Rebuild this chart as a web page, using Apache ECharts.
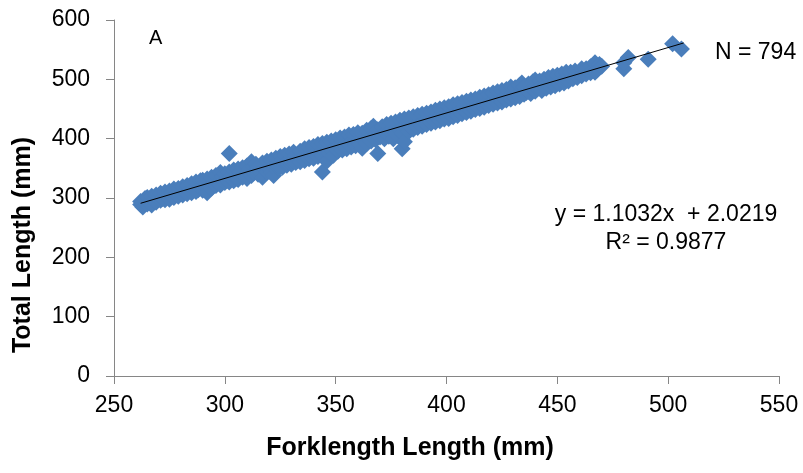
<!DOCTYPE html>
<html>
<head>
<meta charset="utf-8">
<script src="https://cdn.jsdelivr.net/npm/echarts@6/dist/echarts.min.js"></script>
<style>
html,body{margin:0;padding:0;background:#fff;}
#chart{width:803px;height:473px;}
</style>
</head>
<body>
<div id="chart"></div>
<script>
// Fork length (x, mm) of each fish
var forkLength = [
  262,262,263,264,265,265,266,267,267,268,269,269,
  270,271,271,272,273,273,274,275,275,276,277,277,278,279,279,
  280,281,281,282,283,283,284,285,285,286,287,287,288,289,289,
  290,290,291,292,292,293,294,294,295,296,296,297,298,298,299,
  300,300,301,302,302,302,303,304,304,305,306,306,307,308,308,309,
  310,310,311,312,312,313,313,314,315,315,316,317,317,318,319,319,
  320,321,321,322,322,323,324,324,325,326,326,327,328,328,329,
  330,330,331,332,332,333,334,334,335,336,336,337,338,338,339,
  340,340,341,342,342,343,344,344,344,345,346,346,347,348,348,349,
  350,350,351,352,352,353,354,354,355,356,356,357,358,358,359,
  360,360,361,362,362,363,364,364,365,366,366,367,367,368,369,369,
  370,371,371,372,373,373,374,375,375,376,377,377,378,379,379,
  380,380,381,381,382,383,383,384,385,385,386,387,387,388,389,389,
  390,391,391,392,393,393,394,395,395,396,397,397,398,399,399,
  400,401,401,402,403,403,404,405,405,406,407,407,408,409,409,
  410,411,411,412,413,413,414,415,415,416,417,417,418,419,419,
  420,421,421,422,423,423,424,425,425,426,427,427,428,429,429,
  430,431,431,432,433,433,434,435,435,436,437,437,438,439,439,
  440,440,441,442,442,443,444,444,445,446,446,447,448,448,449,
  450,450,451,452,452,453,454,454,455,456,457,458,459,
  461,461,463,463,465,465,466,467,467,468,469,470,480,480,482,491,502,506
];
// Total length (y, mm) of each fish, same order
var totalLength = [
  294,289,285,299,290,301,293,303,288,296,305,293,
  301,296,308,299,310,297,303,312,298,309,301,315,306,316,303,
  312,305,319,311,321,307,313,324,309,316,327,311,314,329,318,
  313,330,320,309,332,319,335,317,324,338,321,326,343,322,336,
  326,341,330,375,344,327,338,347,329,333,349,331,344,335,351,338,
  354,333,347,361,338,353,342,357,340,352,344,335,359,347,362,344,
  350,364,343,338,353,367,350,356,370,352,364,372,355,360,374,
  357,362,377,360,372,364,379,361,368,383,363,369,385,366,372,
  387,367,375,390,370,376,344,392,372,379,362,394,376,396,380,372,
  398,384,379,401,386,381,403,388,383,406,391,386,407,393,388,
  410,395,390,384,409,397,414,392,400,417,396,421,402,398,375,415,
  403,420,405,400,424,408,404,426,410,400,428,411,405,431,414,
  383,409,395,433,417,435,412,420,437,416,423,439,419,425,441,421,
  428,443,424,430,445,426,432,448,428,435,450,430,437,452,433,
  439,454,434,441,457,437,443,459,439,446,461,442,448,463,444,
  450,465,446,452,467,449,455,470,451,457,472,453,459,474,456,
  461,477,458,463,479,460,466,481,462,468,483,465,470,487,467,
  472,486,469,475,490,471,494,475,487,478,492,480,476,496,483,
  499,480,484,497,486,481,500,488,485,503,490,487,505,492,489,
  507,494,492,509,497,494,512,499,497,512,501,514,503,
  518,506,509,518,521,511,515,528,512,516,525,522,518,528,537,534,560,551
];
// Trend line end points (y = 1.1032x + 2.0219)
var trendX = [262, 507];
var trendY = [291.1, 561.3];
// Axis ticks
var xTicks = [250, 300, 350, 400, 450, 500, 550];
var yTicks = [0, 100, 200, 300, 400, 500, 600];

var pts = forkLength.map(function(x, i){ return [x, totalLength[i]]; });
var trend = trendX.map(function(x, i){ return [x, trendY[i]]; });

var chart = echarts.init(document.getElementById('chart'), null, {renderer:'canvas'});
var FONT = 'Liberation Sans, Arial, sans-serif';
var axisGray = '#868686';
chart.setOption({
  animation: false,
  backgroundColor: '#ffffff',
  grid: {left: 114, right: 24, top: 20, bottom: 97, containLabel: false},
  xAxis: {
    type: 'value', min: xTicks[0], max: xTicks[xTicks.length-1], interval: 50,
    name: 'Forklength Length (mm)', nameLocation: 'middle', nameGap: 60,
    nameTextStyle: {fontFamily: FONT, fontWeight: 'bold', fontSize: 25, color: '#000', padding: [0, 73, 0, 0]},
    axisLine: {show: true, lineStyle: {color: axisGray, width: 1}},
    axisTick: {show: true, inside: false, length: 8, lineStyle: {color: axisGray}},
    axisLabel: {fontFamily: FONT, fontSize: 23, color: '#000', margin: 18},
    splitLine: {show: false}
  },
  yAxis: {
    type: 'value', min: yTicks[0], max: yTicks[yTicks.length-1], interval: 100,
    name: 'Total Length (mm)', nameLocation: 'middle', nameGap: 78,
    nameTextStyle: {fontFamily: FONT, fontWeight: 'bold', fontSize: 25, color: '#000', padding: [0, 94, 0, 0]},
    axisLine: {show: true, lineStyle: {color: axisGray, width: 1}},
    axisTick: {show: true, inside: false, length: 8, lineStyle: {color: axisGray}},
    axisLabel: {fontFamily: FONT, fontSize: 23, color: '#000', margin: 24},
    splitLine: {show: false}
  },
  series: [
    {
      type: 'scatter', name: 'Total Length', data: pts,
      symbol: 'diamond', symbolSize: 17,
      itemStyle: {color: '#4a7ebb', opacity: 1},
      z: 2
    },
    {
      type: 'line', name: 'Linear trend', data: trend,
      showSymbol: false, symbol: 'none',
      lineStyle: {color: '#000', width: 1},
      z: 3
    }
  ],
  graphic: [
    {type: 'text', left: 149, top: 28, style: {text: 'A', font: '20px ' + FONT, fill: '#000'}},
    {type: 'text', left: 715, top: 41, style: {text: 'N = 794', font: '23px ' + FONT, fill: '#000'}},
    {type: 'text', x: 666, y: 215, style: {text: 'y = 1.1032x  + 2.0219', font: '23px ' + FONT, fill: '#000', textAlign: 'center', textVerticalAlign: 'middle'}},
    {type: 'text', x: 666, y: 243, style: {text: 'R² = 0.9877', font: '23px ' + FONT, fill: '#000', textAlign: 'center', textVerticalAlign: 'middle'}}
  ]
});
</script>
</body>
</html>
